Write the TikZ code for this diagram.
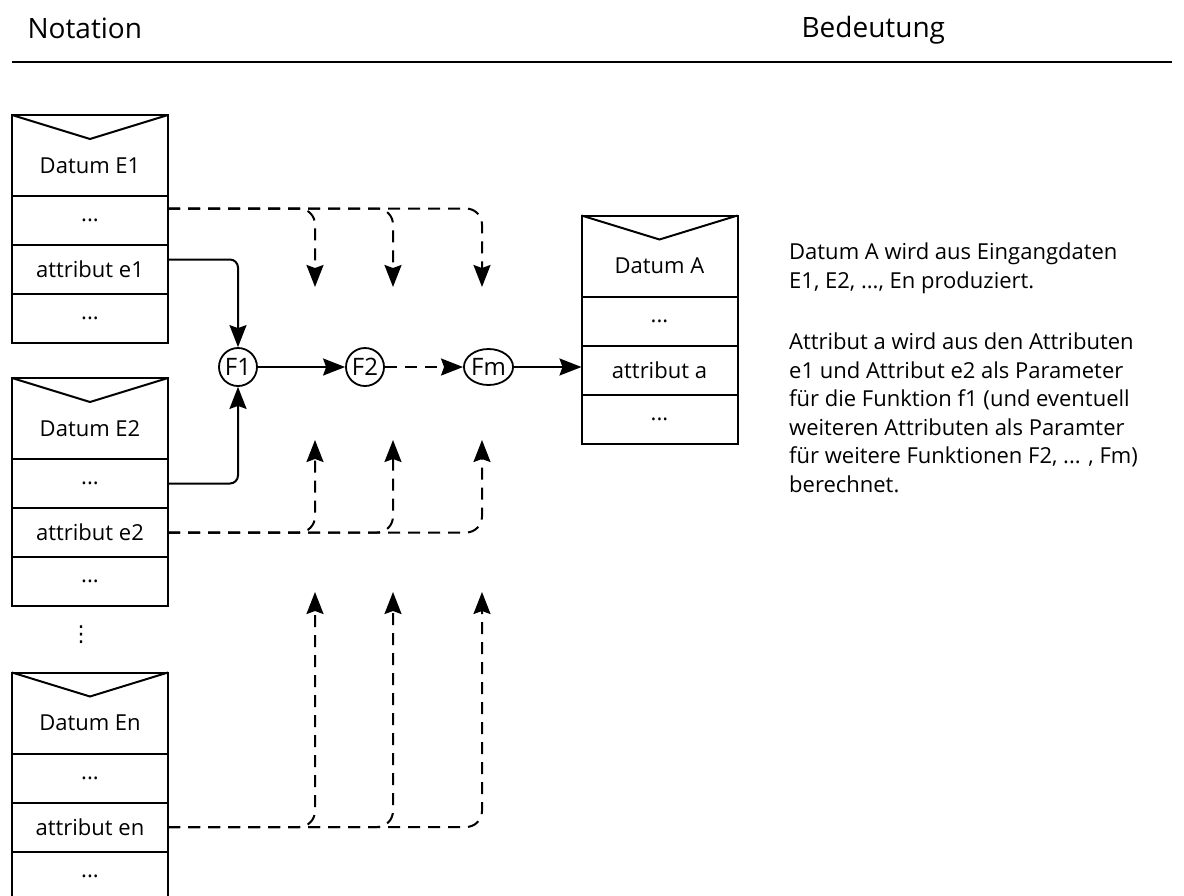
\documentclass[tikz,border=0pt]{standalone}
\usepackage{fontspec}
\setmainfont{Open Sans}
\newfontfamily\symfont{DejaVu Sans}
\usetikzlibrary{positioning,arrows.meta,shapes.geometric}
\begin{document}
\begin{tikzpicture}
			[x=1pt,y=-1pt,font=\fontsize{22}{27}\selectfont,
			hdr/.style={draw,line width=2pt,minimum width=156pt,minimum height=81pt,inner sep=0pt,outer sep=0pt},
			sec/.style={draw,line width=2pt,minimum width=156pt,minimum height=49pt,inner sep=0pt,outer sep=0pt},
			fn/.style={circle,draw,line width=1.8pt,minimum size=38pt,inner sep=0pt,font=\fontsize{24}{24}\selectfont},
			link/.style={line width=2pt,rounded corners=8pt},
			dlink/.style={link,dash pattern=on 12pt off 8pt,rounded corners=16pt},
			>={Stealth[length=22pt,width=17pt,inset=3pt]}]
			\useasboundingbox(0,0)rectangle(1184,895);
			% Kopfzeile
			\node[anchor=base west,font=\fontsize{28}{34}\selectfont,name=nota]at(24,38){Notation};
			\node[anchor=base west,font=\fontsize{28}{34}\selectfont,name=bed]at(798,37){Bedeutung};
			\draw[line width=2pt](12,62)--(1172,62);
			% Eingangsdaten
			\node[hdr,name=E1,label={[yshift=-10pt]center:Datum E1}]at(90,155.5){};
			\node[sec,name=E1x,below=0pt of E1]{...};
			\node[sec,name=E1a,below=0pt of E1x]{attribut e1};
			\node[sec,name=E1y,below=0pt of E1a]{...};
			\node[hdr,name=E2,label={[yshift=-10pt]center:Datum E2}]at(90,418.5){};
			\node[sec,name=E2x,below=0pt of E2]{...};
			\node[sec,name=E2a,below=0pt of E2x]{attribut e2};
			\node[sec,name=E2y,below=0pt of E2a]{...};
			\node[font=\symfont\fontsize{22}{22}\selectfont,inner sep=0pt,name=dots]at(81,635){⋮};
			\node[hdr,name=En,label={[yshift=-10pt]center:Datum En}]at(90,713){};
			\node[sec,name=Enx,below=0pt of En]{...};
			\node[sec,name=Ena,below=0pt of Enx]{attribut en};
			\node[sec,name=Eny,below=0pt of Ena]{...};
			% Ausgangsdatum
			\node[hdr,name=A,label={[yshift=-10pt]center:Datum A}]at(659.5,256){};
			\node[sec,name=Ax,below=0pt of A]{...};
			\node[sec,name=Aa,below=0pt of Ax]{attribut a};
			\node[sec,name=Ay,below=0pt of Aa]{...};
			\draw[line width=2pt](E1.north west)--([yshift=-24pt]E1.north)--(E1.north east);
			\draw[line width=2pt](E2.north west)--([yshift=-24pt]E2.north)--(E2.north east);
			\draw[line width=2pt](En.north west)--([yshift=-24pt]En.north)--(En.north east);
			\draw[line width=2pt](A.north west)--([yshift=-24pt]A.north)--(A.north east);
			% Funktionen
			\node[fn,name=F1]at(238,367){F1};
			\node[fn,name=F2]at(365,367){F2};
			\node[fn,ellipse,minimum width=49pt,minimum height=36pt,name=Fm]at(488.5,367){Fm};
			\draw[link,->]([yshift=10pt]E1a.east)-|(F1);
			\draw[link,->](E2x.east)-|(F1);
			\draw[link,->](F1)--(F2);
			\draw[link,dash pattern=on 12pt off 8pt,->](F2)--(Fm);
			\draw[link,->](Fm)--(Fm-|Aa.west);
			% weitere Attribute
			\coordinate(d1)at(315,287);
			\coordinate(d2)at(393,287);
			\coordinate(d3)at(482,287);
			\coordinate(u1)at(315,440);
			\coordinate(u2)at(393,440);
			\coordinate(u3)at(482,440);
			\coordinate(v1)at(315,592);
			\coordinate(v2)at(393,592);
			\coordinate(v3)at(482,592);
			\draw[dlink,->]([yshift=12pt]E1x.east)-|(d1);
			\draw[dlink,->]([yshift=12pt]E1x.east)-|(d2);
			\draw[dlink,->]([yshift=12pt]E1x.east)-|(d3);
			\draw[dlink,->](E2a.east)-|(u1);
			\draw[dlink,->](E2a.east)-|(u2);
			\draw[dlink,->](E2a.east)-|(u3);
			\draw[dlink,->](Ena.east)-|(v1);
			\draw[dlink,->](Ena.east)-|(v2);
			\draw[dlink,->](Ena.east)-|(v3);
			% Bedeutung
			\node[anchor=north west,align=left,inner sep=0pt,font=\fontsize{22}{28.5}\selectfont,name=txt]at(789,243)
			{Datum A wird aus Eingangdaten\\E1, E2, ..., En produziert.\\[33pt]
			Attribut a wird aus den Attributen\\e1 und Attribut e2 als Parameter\\
			für die Funktion f1 (und eventuell\\weiteren Attributen als Paramter\\
			für weitere Funktionen F2, ... , Fm)\\berechnet.};
		\end{tikzpicture}
\end{document}
